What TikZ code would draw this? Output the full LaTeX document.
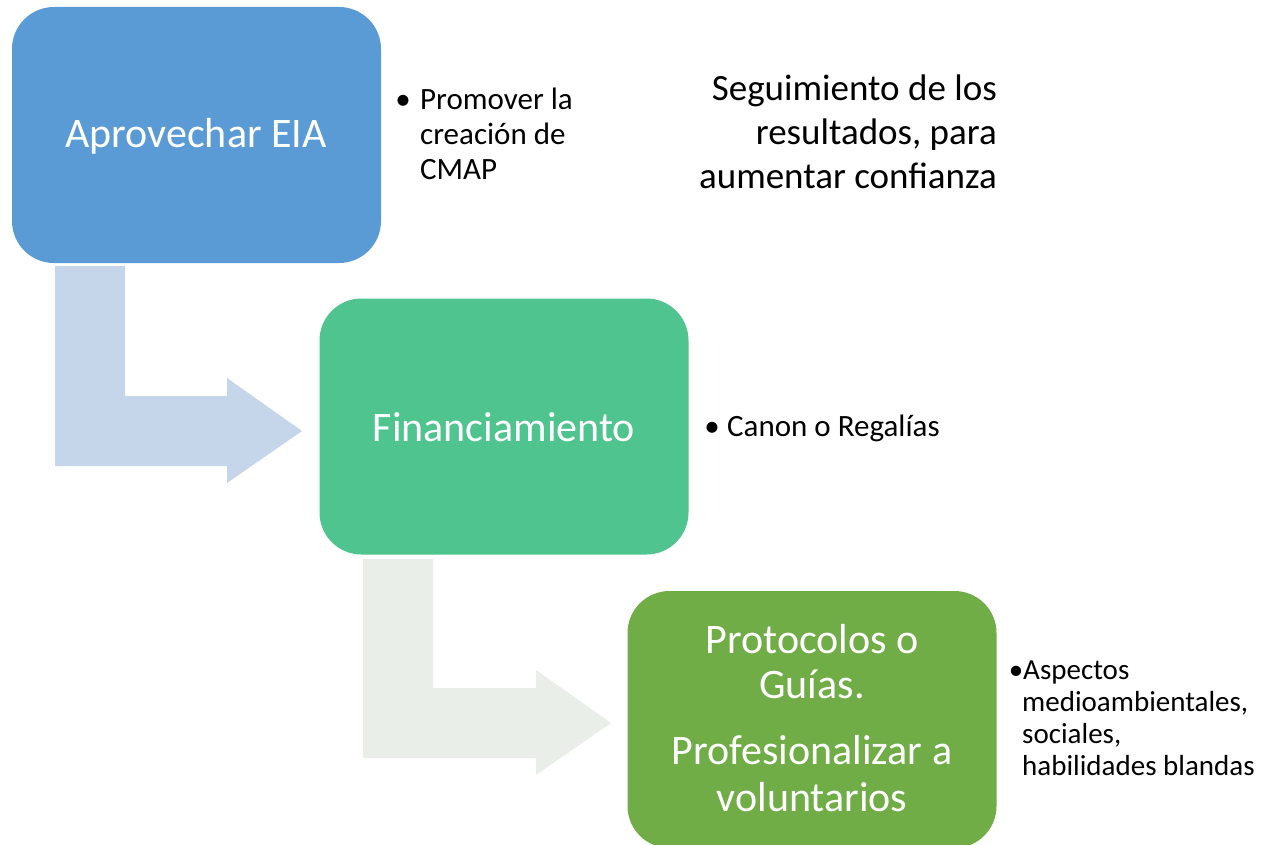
\documentclass[tikz,border=0pt]{standalone}
\usepackage{fontspec}
\setmainfont{Carlito}
\definecolor{boxblue}{HTML}{5B9BD5}
\definecolor{boxteal}{HTML}{50C48E}
\definecolor{boxgreen}{HTML}{70AD47}
\definecolor{arrblue}{HTML}{C5D5EA}
\definecolor{arrgreen}{HTML}{E9EFE8}
\begin{document}
\begin{tikzpicture}[x=1pt,y=-1pt,
  stepbox/.style={rectangle, rounded corners=42pt, minimum width=369pt, minimum height=256pt, inner sep=0pt, draw=none},
  boxtext/.style={anchor=base, inner sep=0pt, text=white, font=\fontsize{42}{46}\selectfont},
  sidetext/.style={anchor=base west, inner sep=0pt, text=black, font=\fontsize{31}{35}\selectfont},
  smalltext/.style={anchor=base west, inner sep=0pt, text=black, font=\fontsize{29}{32}\selectfont},
  bul/.style={anchor=base, inner sep=0pt, text=black}]
\useasboundingbox (0,0) rectangle (1263,845);
\fill[white] (0,0) rectangle (1263,845);

% bent arrows
\fill[arrblue] (55,266) -- (125,266) -- (125,396) -- (227,396) -- (227,378) -- (302,431) -- (227,483) -- (227,466) -- (55,466) -- cycle;
\fill[arrgreen] (363,559) -- (433,559) -- (433,688) -- (536,688) -- (536,670) -- (611,723) -- (536,775) -- (536,758) -- (363,758) -- cycle;

% boxes
\node[stepbox, fill=boxblue] (b1) at (196.5,135) {};
\node[stepbox, fill=boxteal] (b2) at (504,426.5) {};
\node[stepbox, fill=boxgreen, minimum height=257pt] (b3) at (812,719.5) {};

% box texts
\node[boxtext] (t1) at (196,148) {Aprovechar EIA};
\node[boxtext] (t2) at (504,441) {Financiamiento};
\node[boxtext] (t3a) at (812,653) {Protocolos o};
\node[boxtext] (t3b) at (812,698) {Guías.};
\node[boxtext] (t3c) at (812,764) {Profesionalizar a};
\node[boxtext] (t3d) at (812,811) {voluntarios};

% side texts box 1
\node[bul, font=\fontsize{31}{35}\selectfont] (p0) at (403,110) {•};
\node[sidetext] (p1) at (420,110) {Promover la};
\node[sidetext] (p2) at (420,145) {creación de};
\node[sidetext] (p3) at (420,180) {CMAP};

% top right text
\node[anchor=base east, inner sep=0pt, font=\fontsize{37}{44}\selectfont] (s1) at (997,101) {Seguimiento de los};
\node[anchor=base east, inner sep=0pt, font=\fontsize{37}{44}\selectfont] (s2) at (997,145) {resultados, para};
\node[anchor=base east, inner sep=0pt, font=\fontsize{37}{44}\selectfont] (s3) at (997,189) {aumentar confianza};

% side text box 2
\node[bul, font=\fontsize{31}{35}\selectfont] (c0) at (712,436) {•};
\node[sidetext] (c1) at (727,436) {Canon o Regalías};

% side text box 3
\node[bul, font=\fontsize{29}{32}\selectfont] (a0) at (1016,679) {•};
\node[smalltext] (a1) at (1023,679) {Aspectos};
\node[smalltext] (a2) at (1022,711) {medioambientales,};
\node[smalltext] (a3) at (1022,743) {sociales,};
\node[smalltext] (a4) at (1022,775) {habilidades blandas};
\end{tikzpicture}
\end{document}
